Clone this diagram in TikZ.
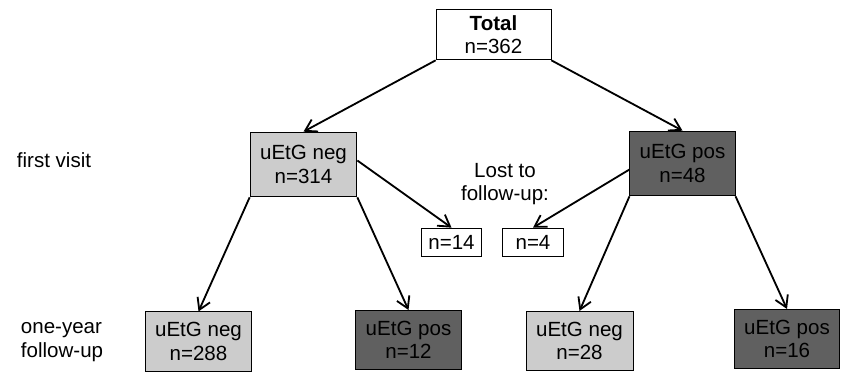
\documentclass[tikz,border=0pt]{standalone}
\usepackage{fontspec}
\setmainfont{Liberation Sans}
\usetikzlibrary{arrows.meta}
\definecolor{lightbox}{HTML}{CCCCCC}
\definecolor{darkbox}{HTML}{606060}
\tikzset{
  box/.style={draw, line width=0.6pt, align=center, inner sep=0pt,
    font=\fontsize{14.6}{16.6}\selectfont},
  negbox/.style={box, fill=lightbox, minimum width=2.67cm},
  posbox/.style={box, fill=darkbox, minimum width=2.63cm},
  lostbox/.style={box, minimum width=1.52cm, minimum height=0.72cm},
  arr/.style={-{Straight Barb[length=2.8mm,width=3.4mm]}, line width=1.3pt},
}
\begin{document}
\begin{tikzpicture}[x=0.025cm, y=-0.025cm]
  \useasboundingbox (0,0) rectangle (841,372);

  \node [box, minimum width=2.87cm, minimum height=1.27cm] (total) at (493.5,34.5) {\textbf{Total}\\n=362};

  \node [negbox, minimum height=1.62cm] (neg1) at (303.5,164.5) {uEtG neg\\n=314};
  \node [posbox, minimum height=1.62cm] (pos1) at (682.5,163.5) {uEtG pos\\n=48};

  \node [lostbox] (lostneg) at (451.5,242.5) {n=14};
  \node [lostbox] (lostpos) at (533,242.5) {n=4};
  \node [font=\fontsize{14.6}{16.6}\selectfont, align=center] (lost) at (505,184) {Lost to\\follow-up:};

  \node [negbox, minimum height=1.48cm] (negneg) at (198.5,341.5) {uEtG neg\\n=288};
  \node [posbox, minimum height=1.48cm] (negpos) at (408.5,340) {uEtG pos\\n=12};
  \node [negbox, minimum height=1.48cm] (posneg) at (579.5,341) {uEtG neg\\n=28};
  \node [posbox, minimum height=1.48cm] (pospos) at (787,339) {uEtG pos\\n=16};

  \node [anchor=west, font=\fontsize{14.6}{16.6}\selectfont] (visit) at (12,160) {first visit};
  \node [anchor=west, align=left, font=\fontsize{14.6}{16.6}\selectfont] (followup) at (16,342) {one-year\\follow-up};

  \draw [arr] (total.south west) -- (neg1.north);
  \draw [arr] (total.south east) -- (pos1.north);

  \draw [arr] (neg1.east) ++(0,-4) -- (lostneg.north);
  \draw [arr] (pos1.west) ++(0,6) -- (lostpos.north);

  \draw [arr] (neg1.south west) -- (negneg.north);
  \draw [arr] (neg1.south east) -- (negpos.north);
  \draw [arr] (pos1.south west) -- (posneg.north);
  \draw [arr] (pos1.south east) -- (pospos.north);
\end{tikzpicture}
\end{document}
